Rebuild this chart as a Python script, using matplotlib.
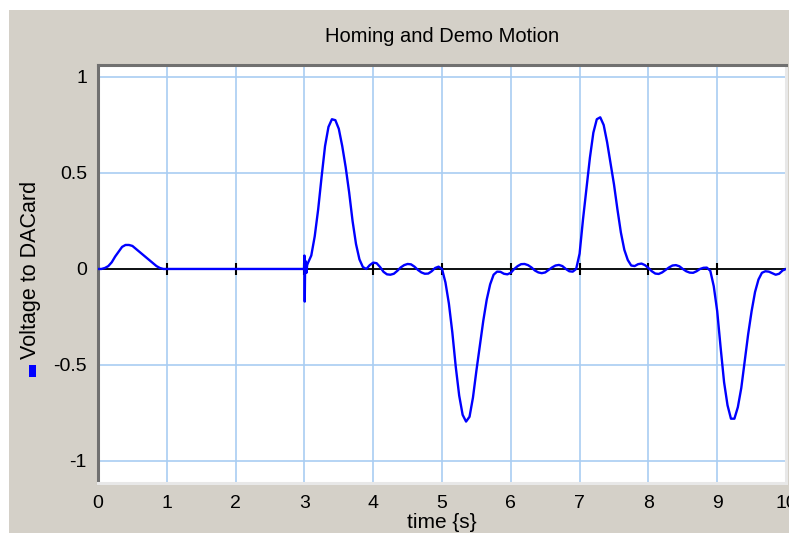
import matplotlib
matplotlib.use("Agg")
import matplotlib.pyplot as plt
from matplotlib.patches import Rectangle

plt.rcParams['font.family'] = ['Liberation Sans', 'DejaVu Sans']

title = "Homing and Demo Motion"
xlabel = "time {s}"
ylabel = "Voltage to DACard"
xticks = [0, 1, 2, 3, 4, 5, 6, 7, 8, 9, 10]
yticks = [-1, -0.5, 0, 0.5, 1]
ytick_labels = ["-1", "-0.5", "0", "0.5", "1"]

time = [0.0, 0.05, 0.1, 0.15, 0.2, 0.25, 0.3, 0.35, 0.4, 0.45, 0.5, 0.55, 0.6, 0.65, 0.7,
        0.75, 0.8, 0.85, 0.9, 0.95, 1.0, 2.995,
        3.0, 3.005, 3.01, 3.02, 3.03, 3.04, 3.05, 3.1, 3.15, 3.2, 3.25, 3.3, 3.35, 3.4, 3.45,
        3.5, 3.55, 3.6, 3.65, 3.7, 3.75, 3.8, 3.85, 3.9, 3.95, 4.0, 4.05, 4.1, 4.15, 4.2,
        4.25, 4.3, 4.35, 4.4, 4.45, 4.5, 4.55, 4.6, 4.65, 4.7, 4.75, 4.8, 4.85, 4.9, 4.95,
        5.0, 5.05, 5.1, 5.15, 5.2, 5.25, 5.3, 5.35, 5.4, 5.45, 5.5, 5.55, 5.6, 5.65, 5.7,
        5.75, 5.8, 5.85, 5.9, 5.95, 6.0, 6.05, 6.1, 6.15, 6.2, 6.25, 6.3, 6.35, 6.4, 6.45,
        6.5, 6.55, 6.6, 6.65, 6.7, 6.75, 6.8, 6.85, 6.9, 6.95, 7.0, 7.05, 7.1, 7.15, 7.2,
        7.25, 7.3, 7.35, 7.4, 7.45, 7.5, 7.55, 7.6, 7.65, 7.7, 7.75, 7.8, 7.85, 7.9, 7.95,
        8.0, 8.05, 8.1, 8.15, 8.2, 8.25, 8.3, 8.35, 8.4, 8.45, 8.5, 8.55, 8.6, 8.65, 8.7,
        8.75, 8.8, 8.85, 8.9, 8.95, 9.0, 9.05, 9.1, 9.15, 9.2, 9.25, 9.3, 9.35, 9.4, 9.45,
        9.5, 9.55, 9.6, 9.65, 9.7, 9.75, 9.8, 9.85, 9.9, 9.95, 10.0]

voltage = [0.0, 0.0, 0.005, 0.015, 0.035, 0.065, 0.09, 0.115, 0.125, 0.125, 0.12, 0.105, 0.09, 0.075, 0.06,
           0.045, 0.03, 0.015, 0.005, 0.0, 0.0, 0.0,
           0.07, -0.17, 0.0, 0.04, -0.02, 0.02, 0.03, 0.07, 0.17, 0.31, 0.48, 0.64, 0.74, 0.78, 0.775,
           0.73, 0.64, 0.53, 0.40, 0.25, 0.13, 0.05, 0.01, 0.0, 0.02, 0.033, 0.03, 0.01, -0.015, -0.028,
           -0.03, -0.025, -0.01, 0.008, 0.02, 0.026, 0.024, 0.012, -0.005, -0.018, -0.025, -0.024, -0.012, 0.005, 0.012,
           0.0, -0.07, -0.18, -0.33, -0.51, -0.66, -0.76, -0.795, -0.77, -0.67, -0.53, -0.40, -0.27, -0.16, -0.08,
           -0.03, -0.014, -0.015, -0.025, -0.028, -0.02, 0.0, 0.015, 0.025, 0.026, 0.02, 0.008, -0.008, -0.018, -0.022,
           -0.018, -0.005, 0.008, 0.018, 0.021, 0.015, 0.0, -0.012, -0.014, 0.0, 0.08, 0.26, 0.42, 0.58, 0.71,
           0.78, 0.79, 0.75, 0.66, 0.55, 0.44, 0.31, 0.19, 0.10, 0.047, 0.018, 0.015, 0.025, 0.028, 0.02,
           0.005, -0.012, -0.024, -0.026, -0.018, -0.005, 0.008, 0.018, 0.02, 0.014, 0.0, -0.012, -0.019, -0.02, -0.012,
           0.0, 0.006, 0.007, -0.01, -0.09, -0.22, -0.41, -0.59, -0.71, -0.78, -0.78, -0.72, -0.62, -0.48, -0.34,
           -0.22, -0.12, -0.055, -0.02, -0.012, -0.014, -0.022, -0.03, -0.025, -0.008, 0.0]

W, H = 789, 533
fig = plt.figure(figsize=(W / 100, H / 100), dpi=100)
fig.patch.set_facecolor("white")
fig.add_artist(Rectangle((9 / W, 0), 1, 1 - 10 / H, transform=fig.transFigure,
                         facecolor="#d4d0c8", edgecolor="none", zorder=0))

ax = fig.add_axes([98 / W, 1 - 483 / H, (786 - 98) / W, (483 - 65) / H])
ax.set_facecolor("white")
ax.set_xlim(0, 10)
ax.set_ylim(-1.115, 1.0625)

ax.grid(True, color="#a9cdf2", linewidth=1.2)
ax.set_axisbelow(True)
ax.set_xticks(xticks)
ax.set_yticks(yticks)
ax.set_yticklabels(ytick_labels)
ax.tick_params(length=0, labelsize=14, pad=8, colors="black")
ax.tick_params(axis="x", pad=9)

ax.axhline(0, color="black", linewidth=1.3, zorder=2)
ax.plot(xticks, [0] * len(xticks), linestyle="none", marker="|", markersize=9,
        markeredgewidth=1.5, color="black", zorder=2)

ax.plot(time, voltage, color="#0000ff", linewidth=1.7, zorder=3)

for side in ["left", "top"]:
    ax.spines[side].set_color("#707070")
    ax.spines[side].set_linewidth(2.2)
for side in ["right", "bottom"]:
    ax.spines[side].set_color("#e8e8e8")
    ax.spines[side].set_linewidth(2.2)

fig.text((98 + 786) / 2 / W, 1 - 37 / H, title, ha="center", va="center", fontsize=14.5)
fig.text(442 / W, 1 - 522 / H, xlabel, ha="center", va="center", fontsize=15)
fig.text(31 / W, 1 - 270 / H, ylabel, ha="center", va="center", rotation=90, fontsize=15.5)
fig.add_artist(Rectangle((29 / W, 1 - 377 / H), 7 / W, 12 / H, transform=fig.transFigure,
                         facecolor="#0000ff", edgecolor="none", zorder=5))

fig.savefig("out.png", dpi=100)
